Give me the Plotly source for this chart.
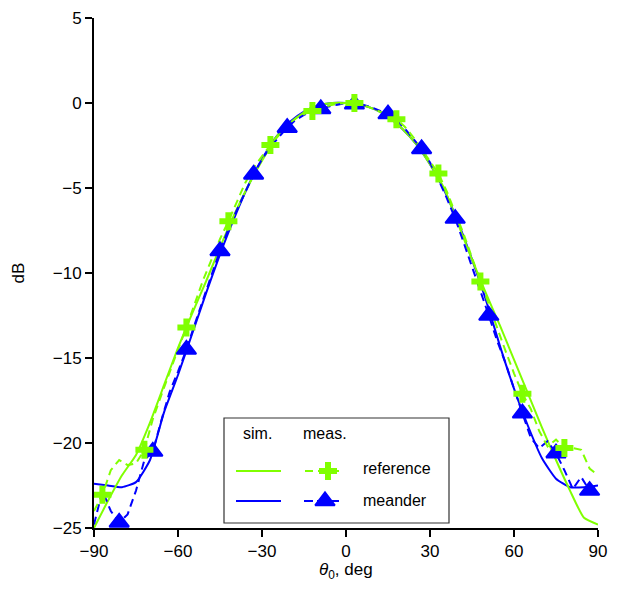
import plotly.graph_objects as go

GREEN = "#80FF00"
BLUE = "#0000FF"

# ---- data ----
sim_theta = [-90, -85, -80, -75, -70, -65, -60, -55, -50, -45, -40, -35, -30, -25, -20, -15, -10, -5,
             0, 5, 10, 15, 20, 25, 30, 35, 40, 45, 50, 55, 60, 65, 70, 75, 80, 85, 90]
sim_reference = [-25.0, -23.4, -21.9, -20.7, -18.8, -16.6, -14.4, -12.4, -10.5, -8.5, -6.6, -4.9, -3.4, -2.1,
                 -1.2, -0.55, -0.15, 0.0, 0.0, -0.1, -0.35, -0.8, -1.5, -2.4, -3.6, -5.0, -7.1, -9.2, -11.2,
                 -13.1, -15.1, -17.1, -19.1, -21.0, -22.8, -24.4, -24.8]
sim_meander = [-22.4, -22.5, -22.6, -22.3, -21.0, -18.2, -16.0, -13.6, -11.2, -8.9, -6.8, -4.9, -3.3, -2.0,
               -1.1, -0.5, -0.15, 0.0, 0.0, -0.1, -0.35, -0.8, -1.5, -2.4, -3.6, -5.1, -7.0, -9.2, -11.6,
               -14.3, -16.8, -19.0, -20.9, -22.1, -22.6, -22.6, -22.5]

meas_theta = list(range(-90, 91, 3))
meas_reference = [-24.0, -23.05, -21.6, -21.0, -21.3, -21.2, -20.4, -18.6, -17.2, -15.8, -14.5, -13.2, -11.8,
                  -10.4, -9.2, -8.0, -6.95, -5.8, -4.7, -3.8, -3.1, -2.47, -1.8, -1.3, -0.9, -0.65, -0.47,
                  -0.3, -0.15, -0.05, 0.0, 0.0, -0.1, -0.3, -0.5, -0.7, -0.95, -1.4, -2.0, -2.7, -3.4, -4.15,
                  -5.2, -6.4, -7.7, -9.1, -10.5, -11.8, -13.2, -14.6, -15.9, -17.1, -18.0, -19.3, -20.2,
                  -19.8, -20.3, -20.3, -20.4, -21.5, -21.9]
meas_meander = [-24.8, -22.8, -24.0, -24.67, -24.2, -22.8, -21.0, -20.5, -18.7, -17.0, -15.8, -14.5, -13.0,
                -11.5, -10.1, -8.7, -7.4, -6.3, -5.2, -4.2, -3.3, -2.6, -2.0, -1.45, -1.0, -0.7, -0.5,
                -0.35, -0.2, -0.1, 0.0, -0.08, -0.1, -0.25, -0.45, -0.65, -1.0, -1.5, -2.1, -2.7, -3.5,
                -4.5, -5.6, -6.8, -8.2, -9.6, -11.0, -12.5, -14.0, -15.3, -16.8, -18.25, -19.7, -20.3,
                -19.9, -20.6, -21.6, -22.7, -22.0, -22.8, -22.4]

x_ticks = [-90, -60, -30, 0, 30, 60, 90]
y_ticks = [-25, -20, -15, -10, -5, 0, 5]
series_names = ["reference", "meander"]

# marker subsets (every 15 deg from -87 for reference, every 12 deg from -81 for meander)
ref_mk_x = meas_theta[1::5]
ref_mk_y = meas_reference[1::5]
mea_mk_x = meas_theta[3::4]
mea_mk_y = meas_meander[3::4]

fig = go.Figure()
fig.add_trace(go.Scatter(x=sim_theta, y=sim_meander, mode="lines", line=dict(color=BLUE, width=2, shape="spline", smoothing=0.5)))
fig.add_trace(go.Scatter(x=sim_theta, y=sim_reference, mode="lines", line=dict(color=GREEN, width=2, shape="spline", smoothing=0.5)))
fig.add_trace(go.Scatter(x=meas_theta, y=meas_meander, mode="lines", line=dict(color=BLUE, width=2, dash="8px,5px")))
fig.add_trace(go.Scatter(x=meas_theta, y=meas_reference, mode="lines", line=dict(color=GREEN, width=2, dash="8px,5px")))
fig.add_trace(go.Scatter(x=mea_mk_x, y=mea_mk_y, mode="markers", cliponaxis=False,
                         marker=dict(symbol="triangle-up", size=17, color=BLUE, line=dict(color=BLUE, width=2))))
fig.add_trace(go.Scatter(x=ref_mk_x, y=ref_mk_y, mode="markers", cliponaxis=False,
                         marker=dict(symbol="cross", size=15, color=GREEN, line=dict(width=0))))

# ---- legend drawn on an overlay pixel-space axis ----
lx = dict(xaxis="x2", yaxis="y2", showlegend=False, hoverinfo="skip")
fig.add_trace(go.Scatter(x=[236, 281], y=[471, 471], mode="lines", line=dict(color=GREEN, width=2), **lx))
fig.add_trace(go.Scatter(x=[236, 281], y=[501, 501], mode="lines", line=dict(color=BLUE, width=2), **lx))
fig.add_trace(go.Scatter(x=[305, 342], y=[471, 471], mode="lines", line=dict(color=GREEN, width=2, dash="8px,5px"), **lx))
fig.add_trace(go.Scatter(x=[304, 342], y=[501, 501], mode="lines", line=dict(color=BLUE, width=2, dash="9px,4px"), **lx))
fig.add_trace(go.Scatter(x=[328], y=[471], mode="markers", marker=dict(symbol="cross", size=15, color=GREEN), **lx))
fig.add_trace(go.Scatter(x=[325], y=[501], mode="markers", marker=dict(symbol="triangle-up", size=17, color=BLUE, line=dict(color=BLUE, width=2)), **lx))

fig.add_shape(type="rect", xref="x2", yref="y2", x0=224, x1=449, y0=418, y1=523,
              line=dict(color="#333333", width=1.2), fillcolor="white", layer="below")

font = "Liberation Sans, Arial, Helvetica, sans-serif"
ann = [
    dict(x=257, y=433, text="sim."),
    dict(x=325, y=433, text="meas."),
    dict(x=361, y=468, text=series_names[0], xanchor="left"),
    dict(x=361, y=500, text=series_names[1], xanchor="left"),
]
for a in ann:
    fig.add_annotation(xref="x2", yref="y2", showarrow=False, font=dict(size=16, color="black", family=font),
                       xanchor=a.get("xanchor", "center"), yanchor="middle", x=a["x"], y=a["y"], text=a["text"])

# x-axis title as annotation (placed below the tick labels, kept inside the figure)
fig.add_annotation(xref="paper", yref="paper", x=0.5, y=-0.085, xanchor="center", yanchor="middle",
                   showarrow=False, text="<i>θ</i><sub>0</sub>, deg", font=dict(size=17, color="black", family=font))

axis_common = dict(showgrid=False, zeroline=False, showline=True, linecolor="black", linewidth=2,
                   ticks="outside", ticklen=7, tickwidth=2, tickcolor="black",
                   ticklabeloverflow="allow",
                   tickfont=dict(size=17, color="black", family=font))

# page body has an 8px margin: figure sized so the plot area lands at the reference position
fig.update_layout(
    width=604, height=575,
    margin=dict(l=86, r=14, t=10, b=55, autoexpand=False),
    paper_bgcolor="white", plot_bgcolor="white",
    showlegend=False,
    font=dict(family=font, color="black"),
    xaxis=dict(range=[-90, 90], tickvals=x_ticks, automargin=False, **axis_common),
    yaxis=dict(range=[-25, 5], tickvals=y_ticks, automargin=False, **axis_common,
               title=dict(text="dB", font=dict(size=17, family=font), standoff=24)),
    xaxis2=dict(overlaying="x", range=[94, 598], visible=False),
    yaxis2=dict(overlaying="y", range=[528, 18], visible=False),
)

fig.write_html("out.html")
